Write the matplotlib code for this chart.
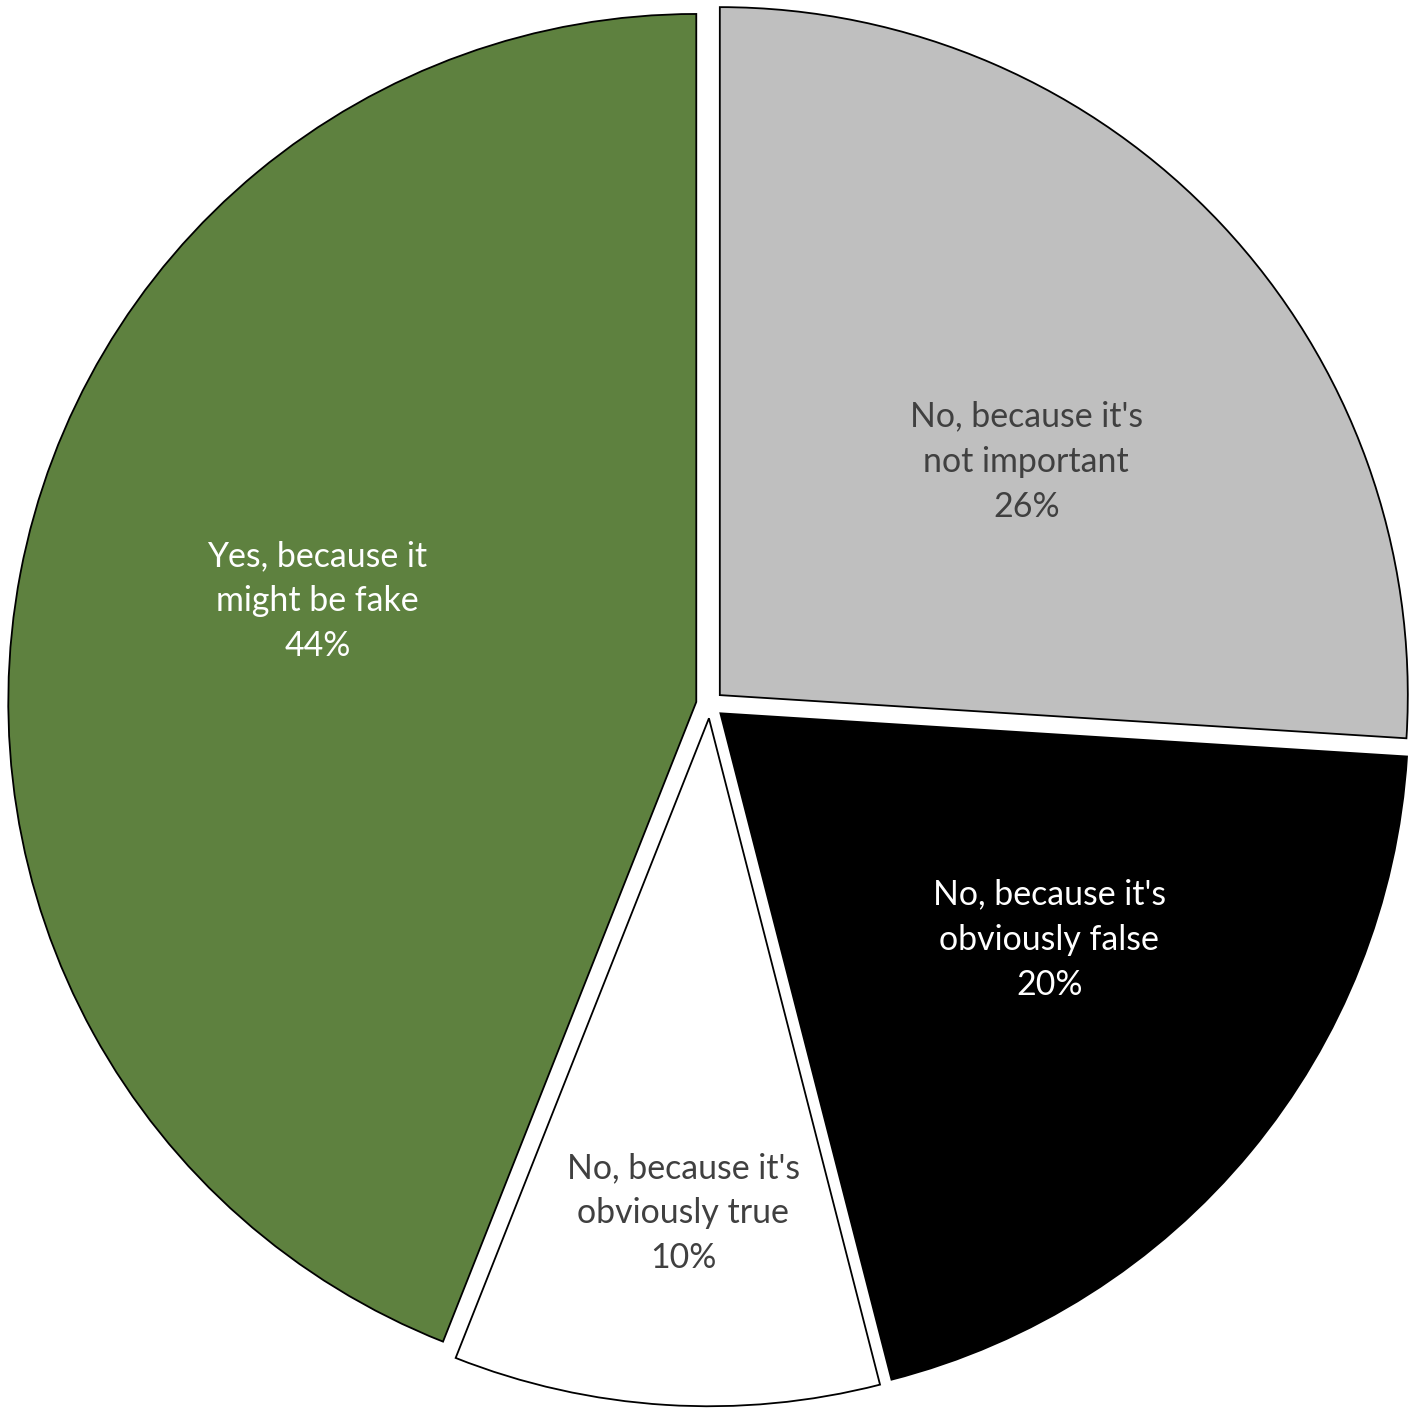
import matplotlib.pyplot as plt
import numpy as np

# slices, clockwise from 12 o'clock
labels = ["No, because it's\nnot important",
          "No, because it's\nobviously false",
          "No, because it's\nobviously true",
          "Yes, because it\nmight be fake"]
shares = [26, 20, 10, 44]

colors = ['#bfbfbf', '#000000', '#ffffff', '#5e813f']
text_colors = ['#404040', '#ffffff', '#404040', '#ffffff']
# label placement: (distance from centre, angle shift in degrees)
label_pos = [(0.58, -5.7), (0.60, 4.9), (0.74, 0.6), (0.59, -4.0)]

plt.rcParams['font.family'] = ['Lato', 'DejaVu Sans']

fig = plt.figure(figsize=(14.18, 14.18), dpi=100)
ax = fig.add_axes([0, 0, 1, 1])

wedges, _ = ax.pie(shares, colors=colors, startangle=90, counterclock=False,
                   explode=[0.02] * len(shares),
                   wedgeprops=dict(edgecolor='black', linewidth=1.3))

for w, lab, val, tc, (r, shift) in zip(wedges, labels, shares, text_colors, label_pos):
    mid = np.deg2rad((w.theta1 + w.theta2) / 2 + shift)
    x = r * np.cos(mid)
    y = r * np.sin(mid)
    ax.text(x, y, f"{lab}\n{val}%", ha='center', va='center', color=tc,
            fontsize=24.4, linespacing=1.5)

ax.set_aspect('equal')
ax.set_xlim(-1.0317, 1.0294)
ax.set_ylim(-1.037, 1.024)
ax.axis('off')

fig.savefig('out.png', dpi=100, facecolor='white')
